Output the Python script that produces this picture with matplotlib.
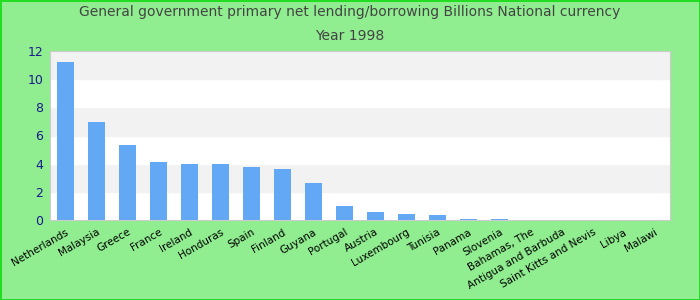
import numpy as np
import matplotlib
matplotlib.use('Agg')
import matplotlib.pyplot as plt

countries = ['Netherlands', 'Malaysia', 'Greece', 'France', 'Ireland', 'Honduras', 'Spain',
             'Finland', 'Guyana', 'Portugal', 'Austria', 'Luxembourg', 'Tunisia', 'Panama',
             'Slovenia', 'Bahamas, The', 'Antigua and Barbuda', 'Saint Kitts and Nevis',
             'Libya', 'Malawi']
values = [11.22, 6.96, 5.33, 4.12, 4.0, 4.0, 3.76, 3.62, 2.63, 1.0, 0.57, 0.43, 0.36,
          0.08, 0.08, 0, 0, 0, 0, 0]
yticks = [0, 2, 4, 6, 8, 10, 12]

fig = plt.figure(figsize=(7, 3), dpi=100, facecolor='#90ee90', edgecolor='#22dd22', linewidth=2)
ax = fig.add_axes([50 / 700, 1 - 220 / 300, 620 / 700, 169 / 300])

# 交替背景条纹
for i in range(0, len(yticks) - 1):
    color = 'white' if i % 2 == 0 else '#f2f2f2'
    ax.axhspan(yticks[i], yticks[i + 1], color=color, zorder=0)

x = np.arange(len(countries))
ax.bar(x, values, width=0.55, color='#62a8f4', zorder=2)
ax.set_xlim(-0.5, len(countries) - 0.5)
ax.set_ylim(0, 12)
ax.set_yticks(yticks)
ax.set_yticklabels([str(v) for v in yticks], color='#1a1a8c', fontsize=9)
ax.set_xticks(x)
ax.set_xticklabels(countries, rotation=30, ha='right', rotation_mode='anchor', fontsize=7.5)
ax.tick_params(length=0, pad=5)
for s in ax.spines.values():
    s.set_color('#cccccc')

fig.text(0.5, 1 - 12 / 300, 'General government primary net lending/borrowing Billions National currency',
         ha='center', va='center', fontsize=10, color='#444444')
fig.text(0.5, 1 - 36 / 300, 'Year 1998', ha='center', va='center', fontsize=10, color='#444444')

fig.savefig('out.png', dpi=100, facecolor=fig.get_facecolor(), edgecolor=fig.get_edgecolor())
